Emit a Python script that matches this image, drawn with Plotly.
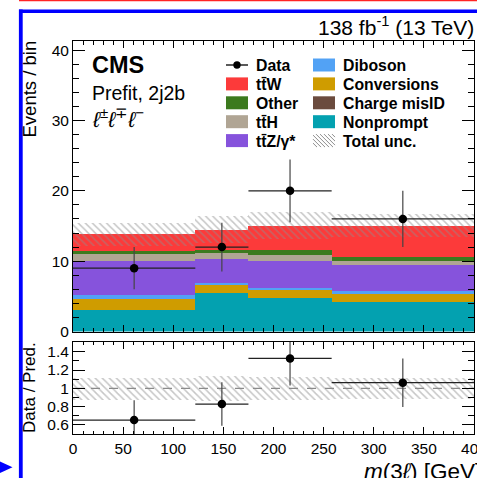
import numpy as np
import plotly.graph_objects as go

W, H = 477, 478
FONT = "Liberation Sans, Arial, Helvetica, sans-serif"

# ---- binning in m(3l) [GeV] ----
bin_edges = [0, 122, 175, 258, 400]

# ---- expected yields per bin (stacked bottom -> top) ----
nonprompt = [3.07, 5.46, 4.83, 4.26]
charge_misid = [0.0, 0.0, 0.0, 0.0]
conversions = [1.53, 1.28, 1.20, 1.10]
diboson = [0.60, 0.16, 0.17, 0.33]
ttz = [4.80, 3.40, 3.87, 3.71]
tth = [1.07, 0.87, 0.86, 0.67]
other = [0.43, 0.47, 0.62, 0.53]
ttw = [2.30, 2.86, 3.52, 4.47]

# total (stat+syst) uncertainty on the prediction
total_unc = [1.65, 1.95, 1.95, 1.70]

# observed data
data = [9, 12, 20, 16]
data_err = [3.0, 3.46, 4.47, 4.0]

# ---- ticks ----
x_ticks = [0, 50, 100, 150, 200, 250, 300, 350, 400]
x_labels = ["0", "50", "100", "150", "200", "250", "300", "350", "400"]
y_ticks = [0, 10, 20, 30, 40]
y_labels = ["0", "10", "20", "30", "40"]
ratio_ticks = [0.6, 0.8, 1.0, 1.2, 1.4]
ratio_labels = ["0.6", "0.8", "1", "1.2", "1.4"]

# ---- colours ----
C_TTW = "#fc3a3a"
C_OTHER = "#3c7a1e"
C_TTH = "#b0a594"
C_TTZ = "#8653dc"
C_DIBOSON = "#52a2f5"
C_CONV = "#cf9c00"
C_MISID = "#6b4b3e"
C_NONPROMPT = "#03a1b0"
C_HATCH = "#8e8e8e"

stack = [
    ("Nonprompt", nonprompt, C_NONPROMPT),
    ("Charge misID", charge_misid, C_MISID),
    ("Conversions", conversions, C_CONV),
    ("Diboson", diboson, C_DIBOSON),
    ("tt\u0304Z/\u03b3*", ttz, C_TTZ),
    ("tt\u0304H", tth, C_TTH),
    ("Other", other, C_OTHER),
    ("tt\u0304W", ttw, C_TTW),
]

edges = np.array(bin_edges, dtype=float)
centers = 0.5 * (edges[:-1] + edges[1:])
widths = edges[1:] - edges[:-1]
half = widths / 2

# ---- pixel helpers for the page layout ----
ML, MR, MT, MB = 73, 3, 41, 44
PW, PH = W - ML - MR, H - MT - MB


def fx(px):
    return (px - ML) / PW


def fy(py):
    return (H - MB - py) / PH


fig = go.Figure()

# stacked prediction
base = np.zeros(len(centers))
for name, vals, color in stack:
    v = np.array(vals, dtype=float)
    fig.add_trace(go.Bar(
        x=centers, y=v, base=base.copy(), width=widths, name=name,
        marker=dict(color=color, line=dict(width=0)),
        showlegend=False, xaxis="x", yaxis="y", hoverinfo="skip"))
    base = base + v
pred = base
unc = np.array(total_unc, dtype=float)

hatch = dict(shape="\\", fgcolor=C_HATCH, bgcolor="rgba(0,0,0,0)", size=5, solidity=0.3)

# uncertainty band on the stack
fig.add_trace(go.Bar(
    x=centers, y=2 * unc, base=pred - unc, width=widths, name="Total unc.",
    marker=dict(color="rgba(0,0,0,0)", line=dict(width=0), pattern=hatch),
    showlegend=False, xaxis="x", yaxis="y", hoverinfo="skip"))

# data points
d = np.array(data, dtype=float)
de = np.array(data_err, dtype=float)
fig.add_trace(go.Scatter(
    x=centers, y=d, mode="markers", name="Data",
    marker=dict(color="black", size=8.5),
    error_x=dict(type="data", array=half, color="#222222", thickness=1.2, width=0),
    error_y=dict(type="data", array=de, color="#444444", thickness=1.2, width=0),
    showlegend=False, xaxis="x", yaxis="y"))

# ratio panel
rel = unc / pred
fig.add_trace(go.Bar(
    x=centers, y=2 * rel, base=1 - rel, width=widths,
    marker=dict(color="rgba(0,0,0,0)", line=dict(width=0), pattern=hatch),
    showlegend=False, xaxis="x2", yaxis="y2", hoverinfo="skip"))
fig.add_trace(go.Scatter(
    x=centers, y=d / pred, mode="markers",
    marker=dict(color="black", size=8.5),
    error_x=dict(type="data", array=half, color="#222222", thickness=1.2, width=0),
    error_y=dict(type="data", array=de / pred, color="#444444", thickness=1.2, width=0),
    showlegend=False, xaxis="x2", yaxis="y2"))

shapes = []
# unity line in the ratio panel
shapes.append(dict(type="line", xref="x2", yref="y2", x0=edges[0], x1=edges[-1], y0=1, y1=1,
                   line=dict(color="#8a8a8a", width=1.2, dash="dash"), layer="below"))

# ---- legend (two columns) ----
leg_x = [226, 313]
sw_w, sw_h = 22, 13
row0, row_step = 65, 18.9
legend_cols = [
    [("Data", "data", "black"), ("tt\u0304W", "box", C_TTW), ("Other", "box", C_OTHER),
     ("tt\u0304H", "box", C_TTH), ("tt\u0304Z/\u03b3*", "box", C_TTZ)],
    [("Diboson", "box", C_DIBOSON), ("Conversions", "box", C_CONV),
     ("Charge misID", "box", C_MISID), ("Nonprompt", "box", C_NONPROMPT),
     ("Total unc.", "hatch", C_HATCH)],
]

annotations = []
for ci, col in enumerate(legend_cols):
    x0 = leg_x[ci]
    x1 = x0 + sw_w
    for ri, (label, kind, color) in enumerate(col):
        yc = row0 + ri * row_step
        y0, y1 = yc - sw_h / 2, yc + sw_h / 2
        if kind == "box":
            shapes.append(dict(type="rect", xref="paper", yref="paper",
                               x0=fx(x0), x1=fx(x1), y0=fy(y1), y1=fy(y0),
                               fillcolor=color, line=dict(width=0)))
        elif kind == "data":
            shapes.append(dict(type="line", xref="paper", yref="paper",
                               x0=fx(x0), x1=fx(x1), y0=fy(yc), y1=fy(yc),
                               line=dict(color="black", width=1.3)))
            r = 3.7
            xm = 0.5 * (x0 + x1)
            shapes.append(dict(type="circle", xref="paper", yref="paper",
                               x0=fx(xm - r), x1=fx(xm + r), y0=fy(yc + r), y1=fy(yc - r),
                               fillcolor="black", line=dict(width=0)))
        else:
            segs = []
            step = 4
            for k in np.arange(-sw_h, sw_w, step):
                sx, sy = x0 + k, y0
                ex, ey = x0 + k + sw_h, y0 + sw_h
                if sx < x0:
                    sy = y0 + (x0 - sx)
                    sx = x0
                if ex > x1:
                    ey = ey - (ex - x1)
                    ex = x1
                if ex - sx > 0.5:
                    segs.append(f"M{fx(sx):.5f},{fy(sy):.5f} L{fx(ex):.5f},{fy(ey):.5f}")
            shapes.append(dict(type="path", xref="paper", yref="paper", path=" ".join(segs),
                               line=dict(color=color, width=1)))
        annotations.append(dict(x=fx(x1 + 6), y=fy(yc + 0.5), xref="paper", yref="paper",
                                xanchor="left", yanchor="middle", showarrow=False,
                                text=f"<b>{label}</b>",
                                font=dict(family=FONT, size=15.8, color="black")))

# ---- labels ----
annotations += [
    dict(x=fx(89.5), y=fy(65.5), text="<b>CMS</b>", xanchor="left", yanchor="middle",
         font=dict(family=FONT, size=23.5, color="black")),
    dict(x=fx(89.5), y=fy(93.5), text="Prefit, 2j2b", xanchor="left", yanchor="middle",
         font=dict(family=FONT, size=19.5, color="black")),
    dict(x=fx(89.5), y=fy(118), xanchor="left", yanchor="middle",
         text="<i>\u2113</i><sup>\u00b1</sup><i>\u2113</i><sup>\u2213</sup><i>\u2113</i><sup>\u2212</sup>",
         font=dict(family=FONT, size=21.5, color="black")),
    dict(x=fx(476), y=fy(25.5), text="138 fb<sup>-1</sup> (13 TeV)", xanchor="right",
         yanchor="middle", font=dict(family=FONT, size=21, color="black")),
    dict(x=fx(29), y=fy(39), text="Events / bin", textangle=-90, xanchor="center",
         yanchor="top", font=dict(family=FONT, size=18.5, color="black")),
    dict(x=fx(29), y=fy(388), text="Data / Pred.", textangle=-90, xanchor="center",
         yanchor="middle", font=dict(family=FONT, size=17, color="black")),
    dict(x=fx(362), y=fy(471.5), text="<i>m</i>(3<i>\u2113</i>) [GeV]", xanchor="left",
         yanchor="middle", font=dict(family=FONT, size=22.5, color="black")),
]
for a in annotations:
    a.setdefault("xref", "paper")
    a.setdefault("yref", "paper")
    a["showarrow"] = False

# ---- page frame ----
shapes += [
    dict(type="line", xref="paper", yref="paper", x0=fx(19), x1=fx(478), y0=fy(0.5), y1=fy(0.5),
         line=dict(color="#ff2424", width=1.5)),
    dict(type="line", xref="paper", yref="paper", x0=fx(19), x1=fx(478), y0=fy(11.2), y1=fy(11.2),
         line=dict(color="#0000ff", width=3.6)),
    dict(type="line", xref="paper", yref="paper", x0=fx(20.8), x1=fx(20.8), y0=fy(9.4), y1=fy(479),
         line=dict(color="#0000ff", width=3.8)),
    dict(type="path", xref="paper", yref="paper",
         path=f"M{fx(0):.5f},{fy(461.5):.5f} L{fx(12.5):.5f},{fy(467.3):.5f} L{fx(0):.5f},{fy(473):.5f} Z",
         fillcolor="#0000ff", line=dict(width=0)),
]

axis_common = dict(showline=True, linecolor="black", linewidth=1, mirror="allticks",
                   ticks="inside", tickcolor="black", tickwidth=1, showgrid=False, zeroline=False,
                   automargin=False,
                   tickfont=dict(family=FONT, size=15.5, color="black"))

fig.update_layout(
    width=W, height=H,
    margin=dict(l=ML, r=MR, t=MT, b=MB, pad=0, autoexpand=False),
    paper_bgcolor="white", plot_bgcolor="white",
    barmode="overlay", bargap=0, showlegend=False,
    xaxis=dict(axis_common, domain=[0, 1], anchor="y", range=[edges[0], edges[-1]],
               tickmode="array", tickvals=x_ticks, ticktext=x_labels, ticklen=7,
               showticklabels=False,
               minor=dict(ticks="inside", ticklen=3.5, dtick=10, tick0=0, tickcolor="black",
                          showgrid=False)),
    yaxis=dict(axis_common, domain=[fy(331.5), 1], anchor="x", range=[0, 41.3],
               tickmode="array", tickvals=y_ticks, ticktext=y_labels, ticklen=12,
               minor=dict(ticks="inside", ticklen=6, dtick=2, tick0=0, tickcolor="black",
                          showgrid=False)),
    xaxis2=dict(axis_common, domain=[0, 1], anchor="y2", range=[edges[0], edges[-1]],
                tickmode="array", tickvals=x_ticks, ticktext=x_labels, ticklen=7,
                ticklabeloverflow="allow",
                minor=dict(ticks="inside", ticklen=3.5, dtick=10, tick0=0, tickcolor="black",
                           showgrid=False)),
    yaxis2=dict(axis_common, domain=[0, fy(341.7)], anchor="x2", range=[0.5, 1.51],
                tickmode="array", tickvals=ratio_ticks, ticktext=ratio_labels, ticklen=12,
                minor=dict(ticks="inside", ticklen=6, dtick=0.1, tick0=0.5, tickcolor="black",
                           showgrid=False)),
    shapes=shapes,
    annotations=annotations,
)

fig.write_html("out.html")
